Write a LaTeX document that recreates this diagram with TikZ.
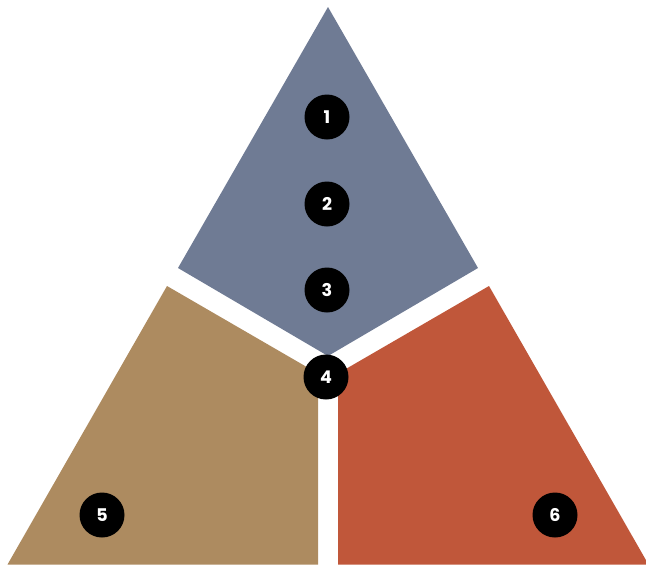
\documentclass[tikz,border=0pt]{standalone}
\usepackage{fontspec}
\newfontfamily\numfont{Poppins}[UprightFont=* Bold]
\definecolor{pblue}{HTML}{6F7B94}
\definecolor{pbrown}{HTML}{AD8B60}
\definecolor{porange}{HTML}{C0573A}
\begin{document}
\begin{tikzpicture}[x=1pt,y=-1pt,
  badge/.style={circle,fill=black,minimum size=45pt,inner sep=0pt,text=white,font=\numfont\fontsize{17.5}{17.5}\selectfont}]
\useasboundingbox (0,0) rectangle (646,566);
\fill[pblue] (328,7) -- (178,268) -- (328,356) -- (478,268) -- cycle;
\fill[pbrown] (167,286) -- (318,373.5) -- (318,564.5) -- (7.5,564.5) -- cycle;
\fill[porange] (489,286) -- (338,373.5) -- (338,564.5) -- (648.5,564.5) -- cycle;
\node[badge] (n1) at (327,117) {1};
\node[badge] (n2) at (327,204) {2};
\node[badge] (n3) at (327,290) {3};
\node[badge] (n4) at (326,377) {4};
\node[badge] (n5) at (102,515) {5};
\node[badge] (n6) at (555,515) {6};
\end{tikzpicture}
\end{document}
